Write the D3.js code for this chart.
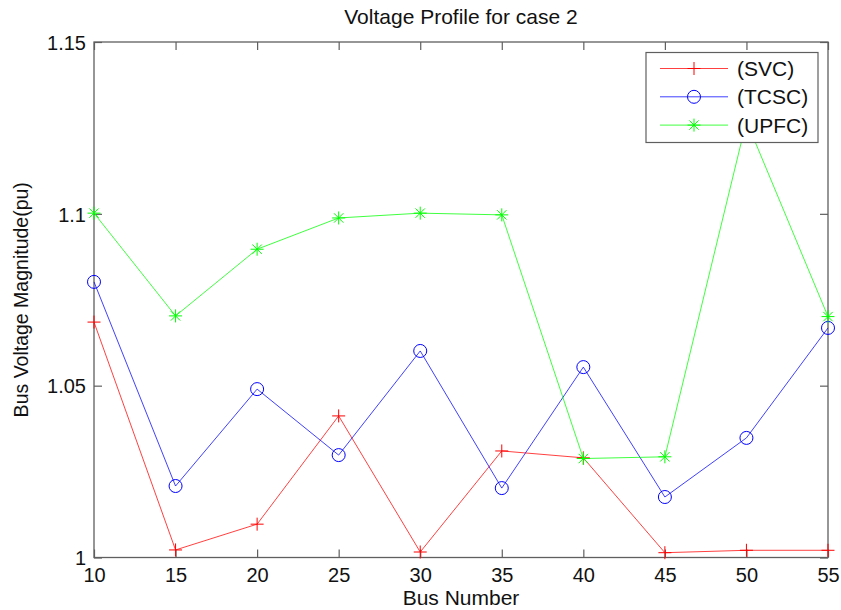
<!DOCTYPE html>
<html><head><meta charset="utf-8">
<script src="https://cdn.jsdelivr.net/npm/d3@7"></script>
<style>
html,body{margin:0;padding:0;background:#fff;}
text{font-family:"Liberation Sans",Arial,sans-serif;fill:#111;}
</style></head>
<body><svg id="c" width="841" height="610"></svg>
<script>
const busNumbers = [10, 15, 20, 25, 30, 35, 40, 45, 50, 55];
const svc  = [1.0685, 1.0022, 1.0097, 1.0412, 1.0016, 1.0310, 1.0290, 1.0014, 1.0021, 1.0021];
const tcsc = [1.0802, 1.0208, 1.0490, 1.0298, 1.0601, 1.0202, 1.0554, 1.0176, 1.0348, 1.0668];
const upfc = [1.1002, 1.0703, 1.0897, 1.0988, 1.1002, 1.0997, 1.0288, 1.0293, 1.1270, 1.0701];
const xTicks = [10, 15, 20, 25, 30, 35, 40, 45, 50, 55];
const yTicks = [1, 1.05, 1.1, 1.15];
const yTickLabels = ["1", "1.05", "1.1", "1.15"];
const seriesNames = ["(SVC)", "(TCSC)", "(UPFC)"];
const seriesColors = ["#ff0000", "#0000ff", "#00ff00"];
const seriesMarkers = ["plus", "circle", "star"];
const title = "Voltage Profile for case 2";
const xLabel = "Bus Number";
const yLabel = "Bus Voltage Magnitude(pu)";

const series = [svc, tcsc, upfc].map((vals, i) => ({
  name: seriesNames[i], color: seriesColors[i], marker: seriesMarkers[i],
  pts: busNumbers.map((b, j) => [b, vals[j]])
}));

const L = 94, R = 828, T = 42, B = 557.5;
const svg = d3.select("#c");
const x = d3.scaleLinear().domain([10, 55]).range([L, R]);
const y = d3.scaleLinear().domain([1, 1.15]).range([B, T]);
const axisColor = "#5f5f5f";
const tickLen = 8;

// frame ticks (inward) via d3 axes
const gB = svg.append("g").attr("transform", `translate(0,${B})`)
  .call(d3.axisBottom(x).tickValues(xTicks).tickSizeInner(-tickLen).tickSizeOuter(0).tickPadding(10).tickFormat(d3.format("d")));
const gT = svg.append("g").attr("transform", `translate(0,${T})`)
  .call(d3.axisTop(x).tickValues(xTicks).tickSizeInner(-tickLen).tickSizeOuter(0).tickFormat(""));
const gL = svg.append("g").attr("transform", `translate(${L},0)`)
  .call(d3.axisLeft(y).tickValues(yTicks).tickSizeInner(-tickLen).tickSizeOuter(0).tickPadding(8).tickFormat((d, i) => yTickLabels[i]));
const gR = svg.append("g").attr("transform", `translate(${R},0)`)
  .call(d3.axisRight(y).tickValues(yTicks).tickSizeInner(-tickLen).tickSizeOuter(0).tickFormat(""));
[gB, gT, gL, gR].forEach(g => {
  g.select(".domain").remove();
  g.selectAll(".tick line").attr("stroke", axisColor).attr("stroke-width", 1.2);
  g.selectAll(".tick text").attr("font-size", 20).attr("fill", "#111")
    .style("font-family", '"Liberation Sans",Arial,sans-serif');
});
gB.selectAll(".tick text").attr("dy", "0.71em");
gL.selectAll(".tick text").attr("dy", "0.36em");

svg.append("rect").attr("x", L).attr("y", T).attr("width", R - L).attr("height", B - T)
  .attr("fill", "none").attr("stroke", axisColor).attr("stroke-width", 1.3);

function drawMarker(g, type, cx, cy, color) {
  const s = 6.5;
  if (type === "plus") {
    g.append("path").attr("d", `M${cx - s},${cy}H${cx + s}M${cx},${cy - s}V${cy + s}`)
      .attr("stroke", color).attr("stroke-width", 1).attr("fill", "none");
  } else if (type === "circle") {
    g.append("circle").attr("cx", cx).attr("cy", cy).attr("r", 6.5)
      .attr("stroke", color).attr("stroke-width", 1).attr("fill", "none");
  } else {
    const d = s * 0.72;
    g.append("path").attr("d", `M${cx - s},${cy}H${cx + s}M${cx},${cy - s}V${cy + s}M${cx - d},${cy - d}L${cx + d},${cy + d}M${cx - d},${cy + d}L${cx + d},${cy - d}`)
      .attr("stroke", color).attr("stroke-width", 1).attr("fill", "none");
  }
}

const line = d3.line().x(d => x(d[0])).y(d => y(d[1]));
series.forEach(s => {
  const g = svg.append("g");
  g.append("path").attr("d", line(s.pts)).attr("fill", "none")
    .attr("stroke", s.color).attr("stroke-width", 1).attr("stroke-opacity", 0.75);
  s.pts.forEach(p => drawMarker(g, s.marker, x(p[0]), y(p[1]), s.color));
});

// legend
const lg = svg.append("g");
lg.append("rect").attr("x", 646).attr("y", 52.5).attr("width", 172).attr("height", 90)
  .attr("fill", "#fff").attr("stroke", axisColor).attr("stroke-width", 1.2);
series.forEach((s, i) => {
  const cy = 68.5 + i * 28.3;
  lg.append("line").attr("x1", 660).attr("x2", 728).attr("y1", cy).attr("y2", cy)
    .attr("stroke", s.color).attr("stroke-width", 1).attr("stroke-opacity", 0.75);
  drawMarker(lg, s.marker, 694, cy, s.color);
  lg.append("text").attr("x", 737).attr("y", cy + 7.5).attr("font-size", 21).text(s.name);
});

svg.append("text").attr("x", (L + R) / 2).attr("y", 24).attr("text-anchor", "middle")
  .attr("font-size", 21).text(title);
svg.append("text").attr("x", (L + R) / 2).attr("y", 605).attr("text-anchor", "middle")
  .attr("font-size", 21).text(xLabel);
svg.append("text").attr("transform", `translate(27.5,${(T + B) / 2 + 0}) rotate(-90)`)
  .attr("text-anchor", "middle").attr("font-size", 19.5).text(yLabel);
</script></body></html>
